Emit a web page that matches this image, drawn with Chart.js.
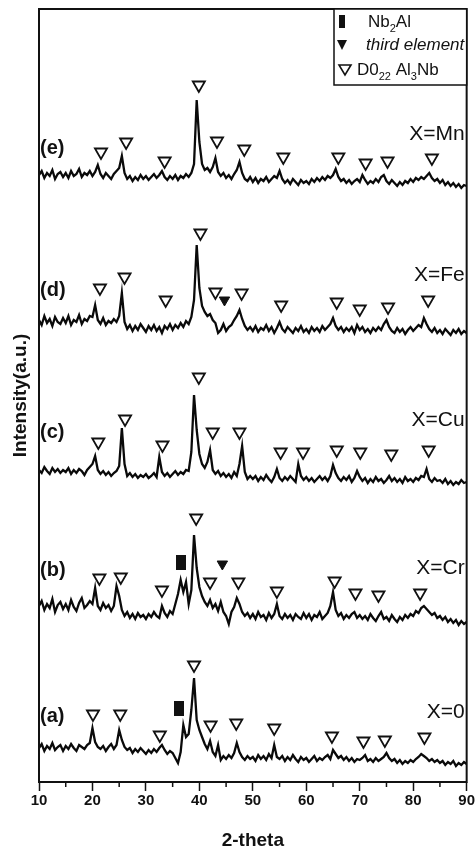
<!DOCTYPE html>
<html>
<head>
<meta charset="utf-8">
<script src="https://cdn.jsdelivr.net/npm/chart.js@4.4.0/dist/chart.umd.min.js"></script>
<style>
  body { margin: 0; background: #fff; }
</style>
</head>
<body>
<canvas id="myChart" width="476" height="850"></canvas>
<script>
// scan: 2-theta from 10 to 90, one reading every 0.5 deg
var twoTheta = [];
for (var i = 0; i <= 160; i++) twoTheta.push(10 + i * 0.5);

// intensities (a.u., already stacked)
var scanA = [
  34, 38, 31, 36, 33, 39, 32, 35, 37, 31,
  36, 33, 38, 34, 31, 37, 35, 33, 37, 39,
  54, 40, 35, 33, 36, 31, 35, 38, 33, 37,
  52, 42, 35, 32, 34, 29, 33, 30, 34, 31,
  28, 32, 29, 33, 30, 34, 37, 32, 28, 31,
  29, 24, 19, 30, 57, 45, 48, 72, 104, 62,
  52, 45, 38, 33, 41, 30, 26, 37, 22, 26,
  23, 27, 24, 29, 39, 30, 25, 22, 26, 23,
  25, 21, 27, 23, 26, 22, 28, 24, 37, 25,
  23, 26, 21, 25, 22, 27, 23, 20, 25, 22,
  24, 20, 23, 26, 21, 24, 22, 25, 27, 23,
  32, 28, 24, 26, 22, 25, 21, 24, 20, 23,
  22, 24, 27, 21, 23, 20, 24, 21, 23, 25,
  29, 24, 21, 23, 19, 22, 18, 21, 19, 22,
  20, 23, 25, 28, 26, 24, 21, 23, 20, 22,
  19, 21, 17, 20, 18, 21, 16, 19, 17, 20,
  18
];
var scanB = [
  176, 181, 172, 178, 174, 183, 170, 177, 180, 173,
  178, 172, 182, 175, 171, 179, 184, 174, 177, 181,
  178, 194, 176, 172, 179, 174, 177, 171, 176, 196,
  186, 172, 166, 170, 164, 168, 163, 169, 165, 167,
  163, 168, 165, 170, 166, 164, 176, 169, 165, 171,
  168, 178, 188, 202, 190, 200, 178, 192, 247, 214,
  195, 186, 180, 176, 182, 174, 178, 171, 180, 170,
  166, 158, 170, 175, 184, 178, 170, 166, 169, 164,
  168, 163, 170, 165, 167, 162, 169, 164, 168, 178,
  166, 163, 168, 164, 167, 162, 168, 165, 163, 169,
  164, 168, 162, 167, 165, 170, 163, 166, 169, 176,
  190, 172, 166, 169, 163, 167, 164, 168, 170, 164,
  167, 163, 166, 162, 168, 164, 161, 166, 170, 163,
  165, 161, 167, 163, 160, 165, 162, 167, 164, 168,
  166, 171, 169, 174, 176, 173, 170, 167, 169, 164,
  166, 162, 165, 160, 163, 159, 162, 157, 161, 158,
  160
];
var scanC = [
  312, 309, 315, 311, 308, 314, 310, 313, 309, 312,
  310, 314, 308, 312, 309, 313, 311, 307, 312, 315,
  318, 326, 312, 308, 311, 307, 310, 306, 309, 311,
  316, 354, 318, 306, 309, 305, 308, 304, 307, 305,
  308, 304, 306, 309, 305, 325, 310, 306, 309, 305,
  308, 311, 307, 310, 308, 312, 311, 330, 387, 352,
  328, 318, 314, 320, 332, 312, 308, 311, 306, 309,
  305, 308, 304, 310, 306, 318, 336, 310, 303, 306,
  303, 306, 301, 305, 302, 307, 303, 300, 305, 313,
  304, 301, 305, 302, 306, 303, 300, 318, 306, 302,
  305, 301, 304, 300, 303, 306, 302, 305, 301, 306,
  317, 309, 304, 301, 305, 302, 306, 300, 304, 311,
  305, 301, 304, 299, 303, 300, 305, 301, 303, 299,
  302, 306, 301, 304, 300, 303, 299, 305, 301, 303,
  300, 304, 302, 306, 305, 313, 303, 300, 304, 301,
  302, 299, 303, 298, 301, 297, 300, 298, 302, 299,
  300
];
var scanD = [
  462, 457, 466, 459, 463, 456, 465, 460, 458, 464,
  459, 466, 457, 462, 460, 467, 458, 463, 461, 466,
  465, 477, 462, 458, 464, 457, 461, 459, 463, 460,
  466, 489, 460, 453, 457, 451, 456, 452, 458, 454,
  450, 456, 452, 457, 451, 455, 449, 456, 453, 458,
  452, 457, 454, 459, 455, 461, 458, 465, 482, 537,
  494, 476, 470, 466, 468, 462, 459, 449, 452, 458,
  451, 455, 457, 462, 466, 472, 463, 456, 452, 455,
  451, 456, 450, 454, 452, 457, 451, 455, 449, 454,
  460, 453, 450, 455, 452, 449, 454, 451, 456, 450,
  453, 449, 455, 451, 454, 450, 456, 452, 455, 458,
  464, 456, 452, 455, 450, 454, 451, 455, 449, 457,
  452, 455, 450, 453, 449, 454, 451, 455, 452, 458,
  462, 455, 451, 449, 454, 450, 453, 448, 452, 455,
  451, 454, 457, 455, 464, 458, 453, 450, 454, 449,
  452, 448, 453, 450, 447, 452, 449, 453, 448, 451,
  449
];
var scanE = [
  607, 611, 604, 609, 606, 612, 603, 608, 610, 605,
  609, 604, 611, 606, 608, 613, 605, 609, 607, 611,
  606, 610, 617, 608, 604, 609, 606, 603, 608, 611,
  614, 626, 609, 603, 606, 601, 605, 602, 607, 603,
  606, 602, 605, 608, 604, 607, 611, 605, 602, 606,
  603, 607, 602, 606, 604, 608, 605, 609, 618, 682,
  640, 618, 612, 614, 610, 615, 624, 610, 606, 609,
  604, 607, 603, 608, 612, 620, 609, 603, 601, 605,
  600, 604, 599, 603, 601, 605, 600, 603, 606, 604,
  611, 603, 599, 602, 598, 603, 600, 597, 602, 599,
  601, 598, 603, 600, 604, 601, 605, 602, 606, 604,
  607, 613, 605, 601, 603, 599, 602, 598, 601, 603,
  600, 607, 602, 598, 601, 599, 603, 600, 605, 607,
  601, 598, 602, 599, 596, 600, 597, 601, 599, 603,
  600, 604, 602, 605, 603, 606, 609, 604, 601, 603,
  599, 602, 597, 600, 596, 599, 595, 598, 594, 597,
  596
];

// phase markers [2-theta, level]
var al3nbMarks = [
  [20.1, 68], [25.2, 68], [32.6, 47], [39.0, 117], [42.1, 57], [46.9, 59], [54.0, 54], [64.8, 46], [70.7, 41], [74.7, 42], [82.1, 45],
  [21.3, 204], [25.3, 205], [33.0, 192], [39.4, 264], [42.0, 200], [47.3, 200], [54.5, 191], [65.3, 201], [69.2, 189], [73.5, 187], [81.3, 189],
  [21.1, 340], [26.1, 363], [33.1, 337], [39.9, 405], [42.5, 350], [47.5, 350], [55.2, 330], [59.4, 330], [65.7, 332], [70.1, 330], [75.9, 328], [82.9, 332],
  [21.4, 494], [26.0, 505], [33.7, 482], [40.2, 549], [43.0, 490], [47.9, 489], [55.3, 477], [65.7, 480], [70.0, 473], [75.3, 475], [82.8, 482],
  [21.6, 630], [26.3, 640], [33.5, 621], [39.9, 697], [43.3, 641], [48.4, 633], [55.7, 625], [66.0, 625], [71.1, 619], [75.2, 621], [83.5, 624]
];
var nb2alMarks = [[36.2, 74], [36.5, 220]];
var thirdMarks = [[44.3, 218], [44.7, 482]];

var sampleTags = ['(a)', '(b)', '(c)', '(d)', '(e)'];
var dopants = ['X=0', 'X=Cr', 'X=Cu', 'X=Fe', 'X=Mn'];
var xTicks = [10, 20, 30, 40, 50, 60, 70, 80, 90];

var myChart;

function pairs(list) {
  return list.map(function (p) { return { x: p[0], y: p[1] }; });
}

function trace(values) {
  return {
    type: 'line',
    data: twoTheta.map(function (t, k) { return { x: t, y: values[k] }; }),
    borderColor: '#0a0a0a',
    borderWidth: 2.3,
    borderJoinStyle: 'miter',
    pointRadius: 0,
    tension: 0,
    fill: false,
    order: 5
  };
}

// tall black block for Nb2Al
var blockImg = document.createElement('canvas');
blockImg.width = 10;
blockImg.height = 15;
(function () {
  var c = blockImg.getContext('2d');
  c.fillStyle = '#111';
  c.fillRect(0, 0, 10, 15);
})();

var textPlugin = {
  id: 'xrdText',
  afterDraw: function (chart) {
    var ctx = chart.ctx;
    var a = chart.chartArea;
    var xs = chart.scales.x, ys = chart.scales.y;
    ctx.save();
    ctx.strokeStyle = '#111';
    ctx.fillStyle = '#111';

    // frame
    ctx.lineWidth = 2;
    ctx.strokeRect(a.left, a.top, a.right - a.left, a.bottom - a.top);

    // minor ticks
    ctx.lineWidth = 1.5;
    for (var m = 15; m < 90; m += 10) {
      var px = xs.getPixelForValue(m);
      ctx.beginPath();
      ctx.moveTo(px, a.bottom);
      ctx.lineTo(px, a.bottom + 5);
      ctx.stroke();
    }

    // sample labels
    var tagLevels = [66, 212, 350, 492, 634];
    var dopLevels = [70, 214, 362, 507, 648];
    ctx.textBaseline = 'middle';
    for (var k = 0; k < sampleTags.length; k++) {
      ctx.font = 'bold 20px Arial, "Liberation Sans"';
      ctx.textAlign = 'left';
      ctx.fillText(sampleTags[k], a.left + 1, ys.getPixelForValue(tagLevels[k]));
      ctx.font = '21px Arial, "Liberation Sans"';
      ctx.textAlign = 'right';
      ctx.fillText(dopants[k], a.right - 2, ys.getPixelForValue(dopLevels[k]));
    }

    // legend box
    var bx = 334, by = a.top, bw = a.right - 334, bh = 85 - a.top;
    ctx.fillStyle = '#fff';
    ctx.fillRect(bx, by, bw, bh);
    ctx.fillStyle = '#111';
    ctx.lineWidth = 1.5;
    ctx.strokeRect(bx, by, bw, bh);

    ctx.fillRect(339, 15, 6, 13);

    ctx.beginPath();
    ctx.moveTo(337, 40); ctx.lineTo(347, 40); ctx.lineTo(342, 50); ctx.closePath();
    ctx.fill();

    ctx.lineWidth = 1.6;
    ctx.beginPath();
    ctx.moveTo(339, 65); ctx.lineTo(351, 65); ctx.lineTo(345, 75); ctx.closePath();
    ctx.stroke();

    ctx.textAlign = 'left';
    ctx.textBaseline = 'alphabetic';
    drawRuns(ctx, 368, 27, [['Nb'], ['2', 1], ['Al']], '');
    drawRuns(ctx, 366, 50, [['third element']], 'italic ');
    drawRuns(ctx, 357, 75, [['D0'], ['22', 1], [' Al'], ['3', 1], ['Nb']], '');
    ctx.restore();
  }
};

function drawRuns(ctx, x, y, runs, style) {
  runs.forEach(function (r) {
    if (r[1]) {
      ctx.font = style + '11px Arial, "Liberation Sans"';
      ctx.fillText(r[0], x, y + 5);
    } else {
      ctx.font = style + '17px Arial, "Liberation Sans"';
      ctx.fillText(r[0], x, y);
    }
    x += ctx.measureText(r[0]).width;
  });
}

function drawChart() {
  var ctx = document.getElementById('myChart').getContext('2d');
  if (myChart) myChart.destroy();
  myChart = new Chart(ctx, {
    type: 'line',
    data: {
      datasets: [
        {
          type: 'scatter',
          data: pairs(al3nbMarks),
          pointStyle: 'triangle',
          rotation: 180,
          radius: 7,
          backgroundColor: '#fff',
          borderColor: '#111',
          borderWidth: 1.8,
          order: 1
        },
        {
          type: 'scatter',
          data: pairs(nb2alMarks),
          pointStyle: blockImg,
          order: 1
        },
        {
          type: 'scatter',
          data: pairs(thirdMarks),
          pointStyle: 'triangle',
          rotation: 180,
          radius: 6,
          backgroundColor: '#111',
          borderColor: '#111',
          borderWidth: 1,
          order: 1
        },
        trace(scanA), trace(scanB), trace(scanC), trace(scanD), trace(scanE)
      ]
    },
    options: {
      responsive: false,
      devicePixelRatio: 1,
      animation: false,
      layout: { padding: { top: 9, right: 6, bottom: 0, left: 0 } },
      plugins: { legend: { display: false }, tooltip: { enabled: false } },
      scales: {
        x: {
          type: 'linear',
          min: 10,
          max: 90,
          afterFit: function (s) { s.height = 68; },
          afterBuildTicks: function (s) { s.ticks = xTicks.map(function (v) { return { value: v }; }); },
          border: { display: false },
          grid: { drawOnChartArea: false, drawTicks: true, tickLength: 9, tickColor: '#111', tickWidth: 1.5 },
          ticks: { color: '#111', padding: 1, font: { family: 'Arial, "Liberation Sans"', size: 15, weight: 'bold' } },
          title: {
            display: true,
            text: '2-theta',
            color: '#111',
            padding: { top: 0, bottom: 0 },
            font: { family: 'Arial, "Liberation Sans"', size: 19, weight: 'bold', lineHeight: 1 }
          }
        },
        y: {
          min: 0,
          max: 773,
          afterFit: function (s) { s.width = 39; },
          border: { display: false },
          grid: { display: false },
          ticks: { display: false },
          title: {
            display: true,
            text: 'Intensity(a.u.)',
            color: '#111',
            padding: { top: 9, bottom: 0 },
            font: { family: 'Arial, "Liberation Sans"', size: 19, weight: 'bold' }
          }
        }
      }
    },
    plugins: [textPlugin]
  });
}

drawChart();
</script>
</body>
</html>
